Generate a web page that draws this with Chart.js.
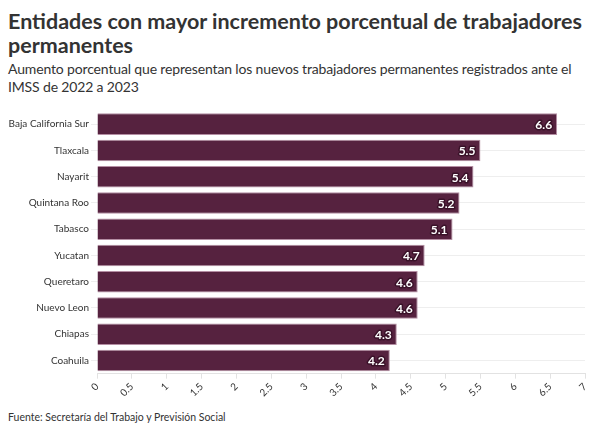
<!DOCTYPE html>
<html>
<head>
<meta charset="utf-8">
<script src="https://cdn.jsdelivr.net/npm/chart.js@4"></script>
<style>
  body { margin: 0; background: #fff; font-family: Lato, sans-serif; color: #333; }
  #wrap { position: relative; width: 600px; height: 433px; }
  h1 { position: absolute; left: 8px; top: 9px; margin: 0; font-size: 21.5px; line-height: 24px; font-weight: 700; color: #333; width: 590px; }
  .sub { position: absolute; left: 8px; top: 60px; margin: 0; font-size: 14px; line-height: 18px; letter-spacing: -0.15px; color: #333; width: 592px; }
  .src { position: absolute; left: 8px; top: 411px; font-size: 10.5px; color: #333; }
  #box { position: absolute; left: 0; top: 103px; width: 600px; height: 298px; }
</style>
</head>
<body>
<div id="wrap">
  <h1>Entidades con mayor incremento porcentual de trabajadores permanentes</h1>
  <p class="sub">Aumento porcentual que representan los nuevos trabajadores permanentes registrados ante el IMSS de 2022 a 2023</p>
  <div id="box"><canvas id="barChart"></canvas></div>
  <div class="src">Fuente: Secretaría del Trabajo y Previsión Social</div>
</div>
<script>
let estados = ['Baja California Sur', 'Tlaxcala', 'Nayarit', 'Quintana Roo', 'Tabasco',
  'Yucatan', 'Queretaro', 'Nuevo Leon', 'Chiapas', 'Coahuila'];
let incremento = [6.6, 5.5, 5.4, 5.2, 5.1, 4.7, 4.6, 4.6, 4.3, 4.2];

// etiquetas de valor dentro de la barra
let valueLabels = {
  id: 'valueLabels',
  afterDatasetsDraw(chart) {
    let ctx = chart.ctx;
    let meta = chart.getDatasetMeta(0);
    ctx.save();
    ctx.font = 'bold 12px Lato, sans-serif';
    ctx.textAlign = 'right';
    ctx.textBaseline = 'middle';
    ctx.lineJoin = 'round';
    meta.data.forEach((bar, i) => {
      let txt = incremento[i].toFixed(1);
      ctx.lineWidth = 3;
      ctx.strokeStyle = '#3a1229';
      ctx.strokeText(txt, bar.x - 5, bar.y + 1);
      ctx.fillStyle = '#fff';
      ctx.fillText(txt, bar.x - 5, bar.y + 1);
    });
    ctx.restore();
  }
};

let ctx = document.getElementById('barChart').getContext('2d');
let chart = new Chart(ctx, {
  type: 'bar',
  data: {
    labels: estados,
    datasets: [{
      data: incremento,
      backgroundColor: '#56223f',
      borderColor: '#b48ea3',
      borderWidth: 1,
      barPercentage: 0.82,
      categoryPercentage: 1
    }]
  },
  options: {
    indexAxis: 'y',
    responsive: true,
    maintainAspectRatio: false,
    animation: false,
    layout: { padding: { left: 4, right: 15, top: 4, bottom: 0 } },
    plugins: {
      legend: { display: false },
      tooltip: { enabled: false }
    },
    scales: {
      x: {
        min: 0,
        max: 7,
        ticks: {
          stepSize: 0.5,
          minRotation: 45,
          maxRotation: 45,
          color: '#333',
          font: { family: 'Lato', size: 10 },
          padding: 2,
          callback: v => String(v)
        },
        grid: { drawOnChartArea: false, drawTicks: true, tickLength: 5, color: '#e2e2e2' },
        border: { color: '#e2e2e2' }
      },
      y: {
        afterFit(scale) { scale.width = 93; },
        ticks: { color: '#333', font: { family: 'Lato', size: 10 }, padding: 2 },
        grid: { offset: false, color: '#eeeeee', tickLength: 6 },
        border: { display: false }
      }
    }
  },
  plugins: [valueLabels]
});
</script>
</body>
</html>
